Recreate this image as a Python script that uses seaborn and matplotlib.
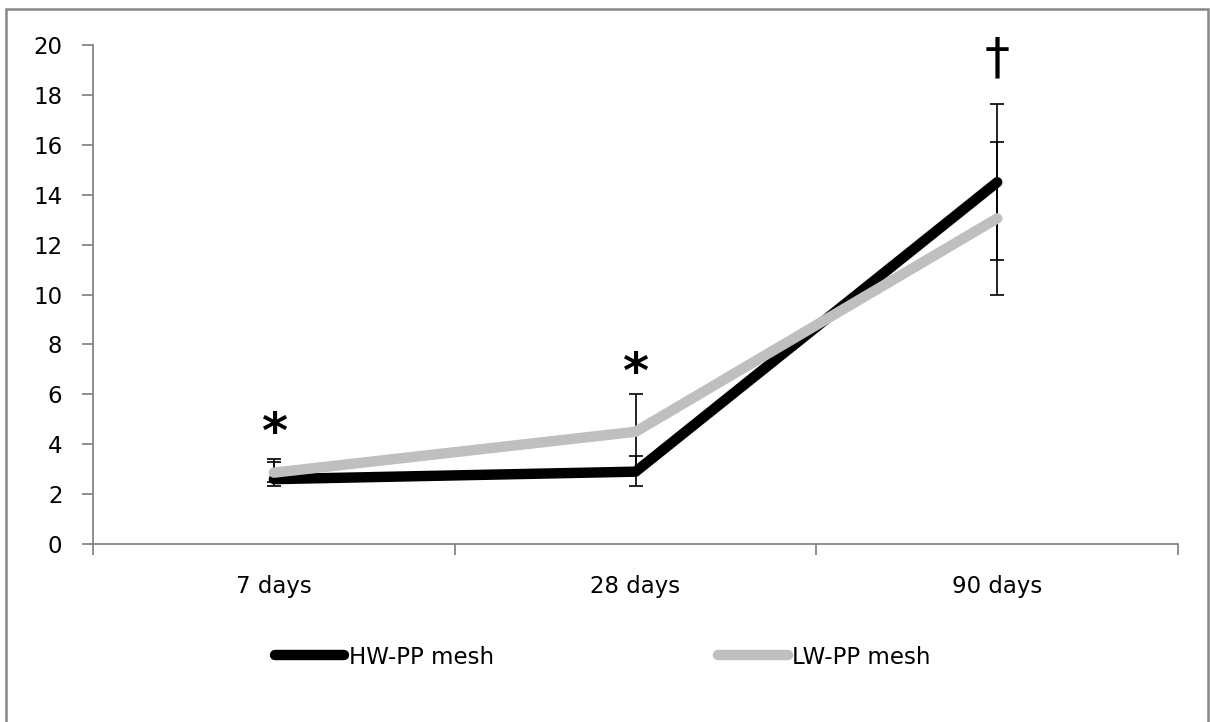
import numpy as np
import pandas as pd
import matplotlib
matplotlib.use("Agg")
import matplotlib.pyplot as plt
from matplotlib.patches import Rectangle
import seaborn as sns

# Time points
days = ["7 days", "28 days", "90 days"]

# Series means
hw_pp = [2.6, 2.9, 14.5]
lw_pp = [2.86, 4.5, 13.05]

# Error bars (lower, upper)
hw_err_low = [0.13, 0.57, 3.12]
hw_err_high = [0.67, 0.63, 3.12]
lw_err_low = [0.55, 1.52, 3.05]
lw_err_high = [0.55, 1.52, 3.05]

# Significance marks
marks = ["*", "*", "\u2020"]
mark_y = [4.4, 6.8, 19.45]

series_names = ["HW-PP mesh", "LW-PP mesh"]
colors = ["#000000", "#bfbfbf"]

sns.set_theme(style="white")
plt.rcParams["font.family"] = ["DejaVu Sans"]
plt.rcParams["text.color"] = "black"

df = pd.DataFrame({
    "day": days * 2,
    "value": hw_pp + lw_pp,
    "series": [series_names[0]] * 3 + [series_names[1]] * 3,
})

fig = plt.figure(figsize=(12.1, 7.22), dpi=100)
fig.patch.set_facecolor("white")
ax = fig.add_axes([0.0769, 0.2465, 0.8967, 0.6912])

x = np.arange(len(days))

# Error bars behind the lines
ax.errorbar(x, hw_pp, yerr=[hw_err_low, hw_err_high], fmt="none",
            ecolor="black", elinewidth=1.2, capsize=5, capthick=1.2, zorder=2)
ax.errorbar(x, lw_pp, yerr=[lw_err_low, lw_err_high], fmt="none",
            ecolor="black", elinewidth=1.2, capsize=5, capthick=1.2, zorder=2)

sns.lineplot(data=df, x="day", y="value", hue="series", palette=colors,
             linewidth=7.5, ax=ax, legend=False, sort=False, zorder=3)
for ln in ax.get_lines():
    ln.set_solid_capstyle("round")
    ln.set_solid_joinstyle("round")

# Significance symbols
for xi, m, ym in zip(x, marks, mark_y):
    if m == "*":
        ax.text(xi, ym, m, ha="center", va="center", fontsize=36,
                fontweight="bold", color="black", clip_on=False)
    else:
        ax.text(xi, ym, m, ha="center", va="center", fontsize=36,
                color="black", clip_on=False)

ax.set_xlim(-0.5, 2.5)
ax.set_ylim(0, 20)
ax.set_yticks(np.arange(0, 21, 2))
ax.set_xticks(x)
ax.set_xticklabels(days)
ax.set_xticks([-0.5, 0.5, 1.5, 2.5], minor=True)
ax.set_xlabel("")
ax.set_ylabel("")

spine_col = "#868686"
for side in ["top", "right"]:
    ax.spines[side].set_visible(False)
for side in ["left", "bottom"]:
    ax.spines[side].set_color(spine_col)
    ax.spines[side].set_linewidth(1.3)

ax.tick_params(axis="y", which="major", direction="out", length=8, width=1.3,
               color=spine_col, pad=14, labelsize=16.5, labelcolor="black", left=True)
ax.tick_params(axis="x", which="major", length=0, pad=22, labelsize=16.5,
               labelcolor="black", bottom=True)
ax.tick_params(axis="x", which="minor", direction="out", length=8, width=1.3,
               color=spine_col, bottom=True)

# Legend below the plot
handles = [plt.Line2D([0], [0], color=c, linewidth=7.5, solid_capstyle="round")
           for c in colors]
leg = fig.legend(handles, series_names, loc="center", bbox_to_anchor=(0.498, 0.09),
                 ncol=2, frameon=False, fontsize=16.5, handlelength=3.05,
                 handletextpad=0.2, columnspacing=9.75, labelcolor="black")

# Chart border
fig.add_artist(Rectangle((6 / 1210, -0.05), 1202 / 1210, 1 - 9 / 722 + 0.05,
                         transform=fig.transFigure, fill=False,
                         edgecolor=spine_col, linewidth=1.8))

fig.savefig("out.png", dpi=100, facecolor="white")
